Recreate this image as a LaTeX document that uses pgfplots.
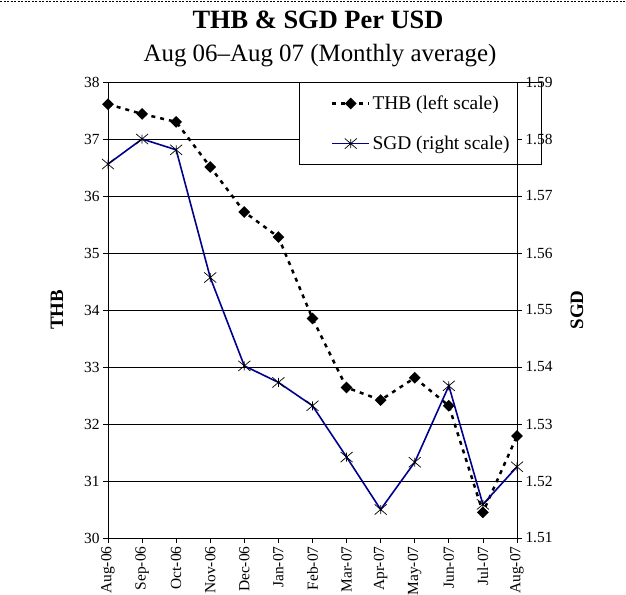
\documentclass[border=0pt]{standalone}
\usepackage{fontspec}
\setmainfont{Liberation Serif}
\usepackage{pgfplots}
\pgfplotsset{compat=1.18}
\definecolor{sgdblue}{RGB}{0,0,140}
\pgfdeclareplotmark{xstar}{%
  \pgfpathmoveto{\pgfqpoint{-\pgfplotmarksize}{.85\pgfplotmarksize}}%
  \pgfpathlineto{\pgfqpoint{\pgfplotmarksize}{-.85\pgfplotmarksize}}%
  \pgfpathmoveto{\pgfqpoint{-\pgfplotmarksize}{-.85\pgfplotmarksize}}%
  \pgfpathlineto{\pgfqpoint{\pgfplotmarksize}{.85\pgfplotmarksize}}%
  \pgfpathmoveto{\pgfqpoint{0pt}{.75\pgfplotmarksize}}%
  \pgfpathlineto{\pgfqpoint{0pt}{-.75\pgfplotmarksize}}%
  \pgfusepathqstroke}
\pgfplotsset{
  thbstyle/.style={black, line width=2.5bp, dash pattern=on 4bp off 5bp,
    mark=square*, mark size=2.9bp, mark options={solid, rotate=45, fill=black}},
  sgdstyle/.style={draw=sgdblue, line width=1.6bp, mark=xstar, mark size=6bp,
    mark options={solid, draw=black, line width=0.7bp}},
  common/.style={at={(108bp,-538bp)}, anchor=south west, scale only axis,
    width=409bp, height=456bp, xmin=0, xmax=12,
    tick align=outside, major tick length=5bp,
    axis line style={black, line width=0.9bp},
    tick style={black, line width=0.8bp},
    tick label style={font=\fontsize{15.5}{15.5}\selectfont},
    /pgf/number format/assume math mode=true,
  },
}
\begin{document}
\begin{tikzpicture}
\path[use as bounding box] (0,0) rectangle (626bp,-595bp);
\draw[black, line width=1.3bp, dash pattern=on 2bp off 1.5bp] (0,-1.5bp) -- (626bp,-1.5bp);
\node[anchor=base, font=\bfseries\fontsize{26.5}{26.5}\selectfont] at (318bp,-28bp) {THB \& SGD Per USD};
\node[anchor=base, font=\fontsize{25}{25}\selectfont] at (320bp,-61.5bp) {Aug 06–Aug 07 (Monthly average)};
\begin{axis}[common,
  ymin=30, ymax=38, ytick={30,31,...,38},
  ymajorgrids, grid style={black, line width=0.8bp},
  ytick pos=left, xtick pos=bottom,
  xtick={0,...,12},
  xticklabels={Aug-06,Sep-06,Oct-06,Nov-06,Dec-06,Jan-07,Feb-07,Mar-07,Apr-07,May-07,Jun-07,Jul-07,Aug-07},
  x tick label style={rotate=90, anchor=east},
  ylabel={THB},
  ylabel style={at={(axis description cs:-0.125,0.5)}, rotate=0, anchor=center,
    font=\bfseries\fontsize{19}{19}\selectfont},
  legend style={at={(1.0611,1)}, anchor=north east, draw=black, line width=0.9bp, fill=white,
    font=\fontsize{19.5}{19.5}\selectfont, inner xsep=30bp, inner ysep=11.5bp, row sep=21bp,
    cells={anchor=west}},
  legend image code/.code={\path[draw=none, fill=none] (-3bp,0bp) -- (0bp,0bp);
    \draw[#1, mark repeat=2, mark phase=2] plot coordinates {(0bp,0bp) (18.5bp,0bp) (37bp,0bp)};},
]
\addplot[thbstyle] coordinates {
(0,37.61) (1,37.44) (2,37.30) (3,36.51) (4,35.72) (5,35.28) (6,33.85)
(7,32.64) (8,32.42) (9,32.81) (10,32.32) (11,30.45) (12,31.79)};
\addlegendentry{THB (left scale)}
\addlegendimage{sgdstyle}
\addlegendentry{SGD (right scale)}
\end{axis}
\begin{axis}[common,
  ymin=1.51, ymax=1.59, ytick={1.51,1.52,...,1.59},
  axis y line*=right, axis x line=none,
  yticklabel style={/pgf/number format/.cd, fixed, fixed zerofill, precision=2},
  ylabel={SGD},
  ylabel style={at={(axis description cs:1.1467,0.5)}, rotate=0, anchor=center,
    font=\bfseries\fontsize{19}{19}\selectfont},
]
\addplot[sgdstyle] coordinates {
(0,1.5756) (1,1.5800) (2,1.5781) (3,1.5557) (4,1.5402) (5,1.5373) (6,1.5332)
(7,1.5242) (8,1.5150) (9,1.5233) (10,1.5367) (11,1.5159) (12,1.5225)};
\end{axis}
\end{tikzpicture}
\end{document}
